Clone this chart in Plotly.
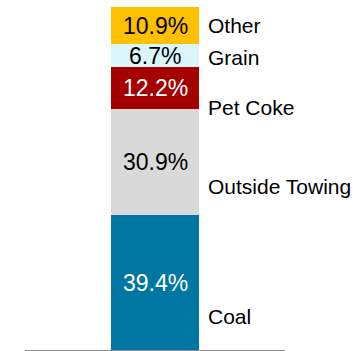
import plotly.graph_objects as go

categories = ["Coal", "Outside Towing", "Pet Coke", "Grain", "Other"]
shares = [39.4, 30.9, 12.2, 6.7, 10.9]
value_labels = ["39.4%", "30.9%", "12.2%", "6.7%", "10.9%"]

colors = ["#0077A2", "#D9D9D9", "#A50000", "#DAF5FB", "#FFC000"]
text_colors = ["white", "black", "white", "black", "black"]
# vertical placement of category names (in axis units)
name_y = [9.9, 47.6, 70.9, 85.3, 94.6]

fig = go.Figure()
base = 0.0
annotations = []
for cat, v, lab, c, tc, ny in zip(categories, shares, value_labels, colors, text_colors, name_y):
    fig.add_trace(go.Bar(x=[0], y=[v], name=cat, marker=dict(color=c, line=dict(width=0)),
                         width=0.338, hoverinfo="skip"))
    annotations.append(dict(x=0, y=base + v / 2, xref="x", yref="y", text=lab, showarrow=False,
                            font=dict(family="Liberation Sans, Arial", size=23, color=tc),
                            xanchor="center", yanchor="middle"))
    annotations.append(dict(x=0.196, y=ny, xref="x", yref="y", text=cat, showarrow=False,
                            font=dict(family="Liberation Sans, Arial", size=21, color="black"),
                            xanchor="left", yanchor="middle"))
    base += v

fig.update_layout(
    barmode="stack",
    width=353, height=351,
    margin=dict(l=25, r=68, t=7, b=1),
    paper_bgcolor="white", plot_bgcolor="white",
    showlegend=False,
    annotations=annotations,
    xaxis=dict(range=[-0.5, 0.5], showticklabels=False, showgrid=False, zeroline=False,
               showline=True, linecolor="#8C8C8C", linewidth=1, ticks=""),
    yaxis=dict(range=[0, sum(shares)], showticklabels=False, showgrid=False, zeroline=False,
               showline=False, ticks=""),
)

fig.write_html("out.html")
